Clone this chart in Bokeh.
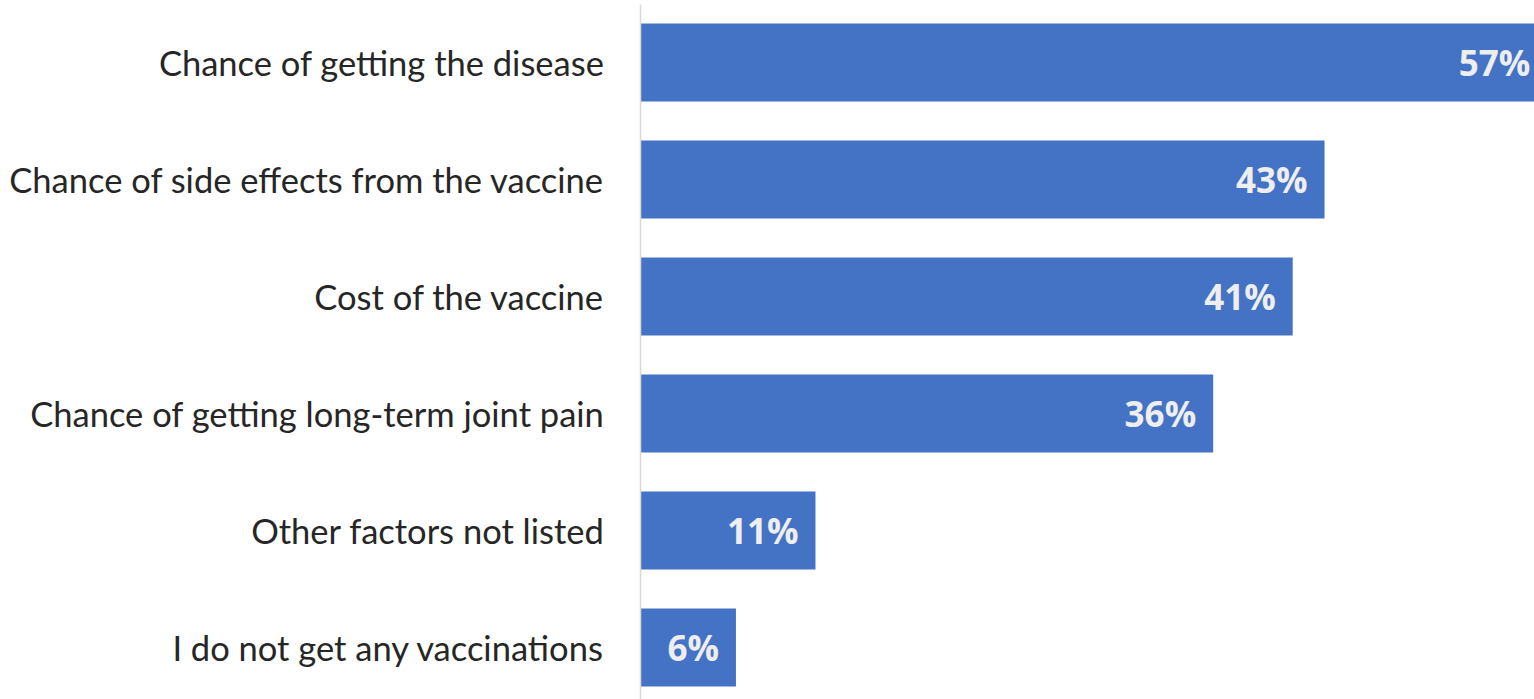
from bokeh.plotting import figure
from bokeh.models import ColumnDataSource, LabelSet, Range1d, FixedTicker
from bokeh.core.properties import value
from bokeh.embed import file_html
from bokeh.resources import INLINE

categories = [
    "Chance of getting the disease",
    "Chance of side effects from the vaccine",
    "Cost of the vaccine",
    "Chance of getting long-term joint pain",
    "Other factors not listed",
    "I do not get any vaccinations",
]
values = [57, 43, 41, 36, 11, 6]
value_labels = ["57%", "43%", "41%", "36%", "11%", "6%"]

n = len(categories)
ypos = [n - 1 - i for i in range(n)]

src = ColumnDataSource(dict(y=ypos, v=values, lab=value_labels, cat=categories))

p = figure(width=1534, height=699, output_backend="svg", toolbar_location=None,
           x_range=Range1d(0, 56.2), y_range=Range1d(-0.444, n - 1 + 0.496),
           min_border_left=640, min_border_right=0, min_border_top=4, min_border_bottom=0)

p.hbar(y="y", right="v", left=0, height=0.667, source=src, color="#4472C4", line_color=None)

p.add_layout(LabelSet(x="v", y="y", text="lab", source=src, x_offset=-17,
                      text_align="right", text_baseline="middle",
                      text_font=value("Open Sans"), text_font_style=value("bold"),
                      text_font_size=value("35px"), text_color="#EEEEEE"))

p.xaxis.visible = False
p.xgrid.visible = False
p.ygrid.visible = False
p.outline_line_color = None

ya = p.yaxis[0]
ya.ticker = FixedTicker(ticks=ypos)
ya.major_label_overrides = {y: c for y, c in zip(ypos, categories)}
ya.major_tick_line_color = None
ya.minor_tick_line_color = None
ya.major_tick_out = 0
ya.major_tick_in = 0
ya.axis_line_color = "#D9D9D9"
ya.axis_line_width = 1.5
ya.major_label_standoff = 36
ya.major_label_text_font = "Lato"
ya.major_label_text_font_size = "34.5px"
ya.major_label_text_color = "#262626"

open("out.html", "w").write(file_html(p, INLINE))
